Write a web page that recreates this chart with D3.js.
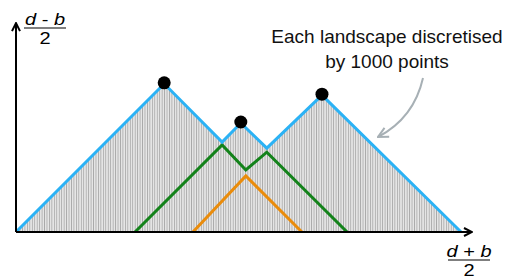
<!DOCTYPE html>
<html>
<head>
<meta charset="utf-8">
<script src="https://cdn.jsdelivr.net/npm/d3@7"></script>
<style>
  body { margin: 0; background: #fff; }
  svg { display: block; font-family: "Liberation Sans", Arial, sans-serif; }
</style>
</head>
<body>
<svg id="chart" width="505" height="280"></svg>
<script>
// landscape breakpoints (x = (d+b)/2, y = (d-b)/2)
var lambda1 = [[0, 0], [3.25, 3.25], [4.52, 1.97], [4.93, 2.39], [5.50, 1.84], [6.71, 3.0], [9.76, 0]];
var lambda2 = [[2.61, 0], [4.52, 1.91], [5.04, 1.36], [5.50, 1.75], [7.26, 0]];
var lambda3 = [[3.88, 0], [5.04, 1.23], [6.27, 0]];
var peaks = [[3.25, 3.25], [4.93, 2.39], [6.71, 3.0]];
var xMax = 10, yMax = 4.58;
var note = ["Each landscape discretised", "by 1000 points"];

var svg = d3.select("#chart");
var x = d3.scaleLinear().domain([0, 10]).range([16, 472]);
var y = d3.scaleLinear().domain([0, 5]).range([232, 4]);

var defs = svg.append("defs");
var pat = defs.append("pattern").attr("id", "stripes")
  .attr("patternUnits", "userSpaceOnUse")
  .attr("width", 2.45).attr("height", 10);
pat.append("rect").attr("width", 2.45).attr("height", 10).attr("fill", "#e6e6e6");
pat.append("rect").attr("width", 0.85).attr("height", 10).attr("fill", "#a8a8a8");

defs.append("marker").attr("id", "axArrow")
  .attr("viewBox", "0 0 10 10").attr("refX", 9).attr("refY", 5)
  .attr("markerWidth", 10).attr("markerHeight", 10)
  .attr("markerUnits", "userSpaceOnUse").attr("orient", "auto")
  .append("path").attr("d", "M1,1 L9,5 L1,9")
  .attr("fill", "none").attr("stroke", "#000").attr("stroke-width", 2);

defs.append("marker").attr("id", "noteArrow")
  .attr("viewBox", "0 0 12 12").attr("refX", 11).attr("refY", 6)
  .attr("markerWidth", 12).attr("markerHeight", 12)
  .attr("markerUnits", "userSpaceOnUse").attr("orient", "auto")
  .append("path").attr("d", "M1,1 L11,6 L1,11")
  .attr("fill", "none").attr("stroke", "#a7b0b5").attr("stroke-width", 2);

// discretised area under the top landscape
var area = d3.area().x(function(d) { return x(d[0]); })
  .y0(y(0)).y1(function(d) { return y(d[1]); });
svg.append("path").datum(lambda1).attr("d", area).attr("fill", "url(#stripes)");

var line = d3.line().x(function(d) { return x(d[0]); }).y(function(d) { return y(d[1]); });
var series = [
  { pts: lambda3, color: "#ea8c0b" },
  { pts: lambda2, color: "#13821a" },
  { pts: lambda1, color: "#2bb2f5" }
];
svg.selectAll("path.land").data(series).enter()
  .append("path").attr("class", "land")
  .attr("d", function(d) { return line(d.pts); })
  .attr("fill", "none")
  .attr("stroke", function(d) { return d.color; })
  .attr("stroke-width", 3)
  .attr("stroke-linejoin", "miter");

svg.selectAll("circle.peak").data(peaks).enter()
  .append("circle").attr("class", "peak")
  .attr("cx", function(d) { return x(d[0]); })
  .attr("cy", function(d) { return y(d[1]) - 1; })
  .attr("r", 6.5).attr("fill", "#000");

// axes
svg.append("line").attr("x1", x(0)).attr("y1", y(0)).attr("x2", x(xMax)).attr("y2", y(0))
  .attr("stroke", "#000").attr("stroke-width", 2).attr("marker-end", "url(#axArrow)");
svg.append("line").attr("x1", x(0)).attr("y1", y(0)).attr("x2", x(0)).attr("y2", y(yMax))
  .attr("stroke", "#000").attr("stroke-width", 2).attr("marker-end", "url(#axArrow)");

function fraction(cx, top, a, op, b) {
  var g = svg.append("g").attr("transform", "translate(" + cx + "," + top + ")");
  var t = g.append("text").attr("text-anchor", "middle").attr("y", 11)
    .attr("font-size", 16).attr("transform", "scale(1.25,1)");
  t.append("tspan").attr("font-style", "italic").text(a);
  t.append("tspan").text(" " + op + " ");
  t.append("tspan").attr("font-style", "italic").text(b);
  g.append("line").attr("x1", -21).attr("x2", 21).attr("y1", 14).attr("y2", 14)
    .attr("stroke", "#000").attr("stroke-width", 1.2);
  g.append("text").attr("text-anchor", "middle").attr("y", 30)
    .attr("font-size", 16).attr("transform", "scale(1.25,1)").text("2");
}
fraction(45, 14, "d", "-", "b");
fraction(469, 246, "d", "+", "b");

// annotation
svg.selectAll("text.note").data(note).enter()
  .append("text").attr("class", "note")
  .attr("x", 387).attr("y", function(d, i) { return 43 + i * 25; })
  .attr("text-anchor", "middle").attr("font-size", 19).attr("fill", "#111")
  .text(function(d) { return d; });
svg.append("path").attr("d", "M423,78 Q414,118 378,137")
  .attr("fill", "none").attr("stroke", "#a7b0b5").attr("stroke-width", 2)
  .attr("marker-end", "url(#noteArrow)");
</script>
</body>
</html>
